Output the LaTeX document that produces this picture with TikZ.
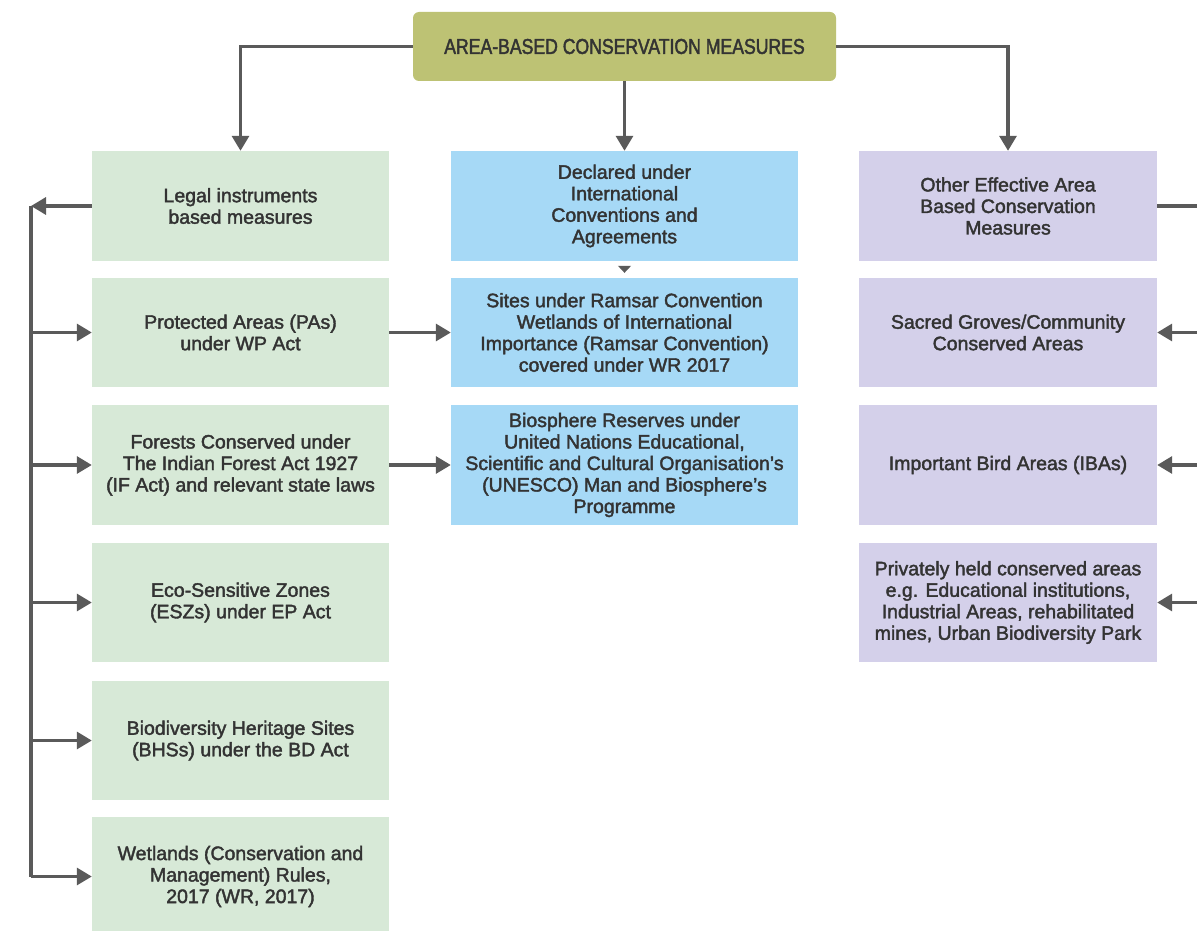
\documentclass[tikz,border=0pt]{standalone}
\usepackage{fontspec}
\setmainfont{Liberation Sans}[FakeBold=2]
\newfontfamily\titlefont{Liberation Sans}[FakeStretch=0.82, FakeBold=2]
\usetikzlibrary{arrows.meta}
\definecolor{olivebox}{HTML}{BDC274}
\definecolor{greenbox}{HTML}{D7E9D7}
\definecolor{bluebox}{HTML}{A6D9F6}
\definecolor{purplebox}{HTML}{D4D0EA}
\definecolor{txt}{HTML}{333333}
\definecolor{linec}{HTML}{5A5A5A}
\begin{document}
\begin{tikzpicture}[x=1pt,y=-1pt,
  base/.style={inner sep=0pt, align=center, text=txt, font=\fontsize{19.5}{21.5}\selectfont},
  gbox/.style={base, fill=greenbox, minimum width=297pt},
  bbox/.style={base, fill=bluebox, minimum width=347pt},
  pbox/.style={base, fill=purplebox, minimum width=298pt},
  titlebox/.style={base, fill=olivebox, rounded corners=6pt, minimum width=423pt, minimum height=69pt, font=\titlefont\fontsize{21.5}{24}\selectfont},
  conn/.style={draw=linec, line width=3.2pt},
  arr/.style={conn, -{Triangle[length=15pt,width=17pt]}},
  smallarr/.style={draw=linec, line width=1pt, -{Triangle[length=7pt,width=13pt]}, shorten <=5pt, shorten >=5pt}
]
\useasboundingbox (0,0) rectangle (1197,931);
\fill[white] (0,0) rectangle (1197,931);

\node[titlebox] (top) at (624.5,46.5) {AREA-BASED CONSERVATION MEASURES};

% left column
\node[gbox, minimum height=110pt] (l1) at (240.5,206) {Legal instruments\\based measures};
\node[gbox, minimum height=109pt] (l2) at (240.5,332.5) {Protected Areas (PAs)\\under WP Act};
\node[gbox, minimum height=120pt] (l3) at (240.5,465) {Forests Conserved under\\The Indian Forest Act 1927\\(IF Act) and relevant state laws};
\node[gbox, minimum height=119pt] (l4) at (240.5,602.5) {Eco-Sensitive Zones\\(ESZs) under EP Act};
\node[gbox, minimum height=119pt] (l5) at (240.5,740.5) {Biodiversity Heritage Sites\\(BHSs) under the BD Act};
\node[gbox, minimum height=119pt] (l6) at (240.5,876.5) {Wetlands (Conservation and\\Management) Rules,\\2017 (WR, 2017)};

% middle column
\node[bbox, minimum height=110pt] (m1) at (624.5,206) {Declared under\\International\\Conventions and\\Agreements};
\node[bbox, minimum height=109pt] (m2) at (624.5,332.5) {Sites under Ramsar Convention\\Wetlands of International\\Importance (Ramsar Convention)\\covered under WR 2017};
\node[bbox, minimum height=120pt] (m3) at (624.5,465) {Biosphere Reserves under\\United Nations Educational,\\Scientific and Cultural Organisation’s\\(UNESCO) Man and Biosphere’s\\Programme};

% right column
\node[pbox, minimum height=110pt] (r1) at (1008,206) {Other Effective Area\\Based Conservation\\Measures};
\node[pbox, minimum height=109pt] (r2) at (1008,332.5) {Sacred Groves/Community\\Conserved Areas};
\node[pbox, minimum height=120pt] (r3) at (1008,465) {Important Bird Areas (IBAs)};
\node[pbox, minimum height=119pt] (r4) at (1008,602.5) {Privately held conserved areas\\e.g. Educational institutions,\\Industrial Areas, rehabilitated\\mines, Urban Biodiversity Park};

% top connectors
\draw[arr] (top.west) -| (l1.north);
\draw[arr] (top.east) -| (r1.north);
\draw[arr] (top.south) -- (m1.north);

% left bus
\coordinate (busL) at (31,206);
\draw[arr] (l1.west) -- (busL);
\draw[conn] (busL) -- (busL |- l6.west);
\foreach \n in {l2,l3,l4,l5,l6}
  \draw[arr] (busL |- \n.west) -- (\n.west);

% right bus
\coordinate (busR) at (1205,206);
\draw[conn] (r1.east) -- (busR) -- (busR |- r4.east);
\foreach \n in {r2,r3,r4}
  \draw[arr] (busR |- \n.east) -- (\n.east);

% middle connectors
\draw[arr] (l2.east) -- (m2.west);
\draw[arr] (l3.east) -- (m3.west);
\draw[smallarr] (m1.south) -- (m2.north);
\end{tikzpicture}
\end{document}
